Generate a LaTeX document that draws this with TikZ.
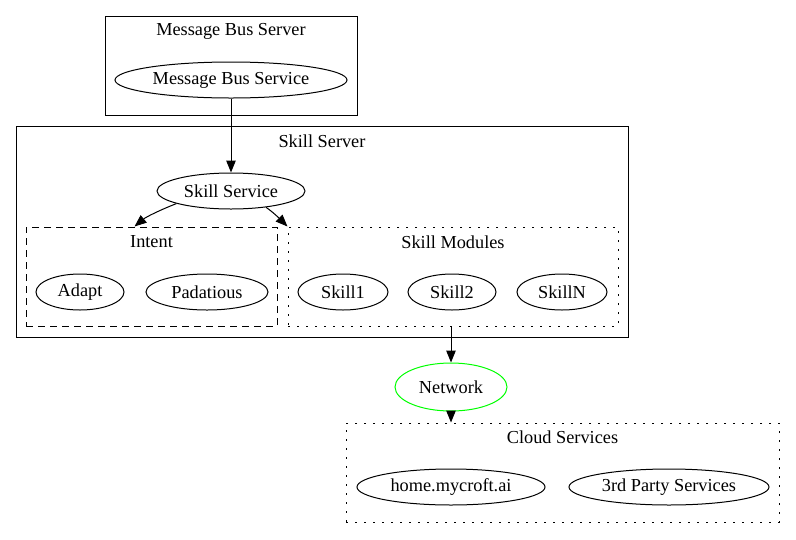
\documentclass[tikz,border=0pt]{standalone}
\usepackage{fontspec}
\setmainfont{Liberation Serif}
\usetikzlibrary{shapes.geometric,arrows.meta}
\begin{document}
\begin{tikzpicture}[x=1pt,y=-1pt,
  every node/.style={font=\fontsize{18.3}{21}\selectfont},
  ell/.style={draw,ellipse,line width=1pt,inner sep=0pt,minimum height=36pt},
  cl/.style={draw,rectangle,line width=1pt,inner sep=0pt},
  cldash/.style={cl,dash pattern=on 7pt off 5pt},
  cldot/.style={cl,dash pattern=on 1.6pt off 7.4pt},
  lbl/.style={inner sep=0pt},
  arr/.style={line width=1pt,-{Triangle[length=12pt,width=9.5pt]}}]
\useasboundingbox (0,0) rectangle (796,539);
% clusters
\node[cl,minimum width=252pt,minimum height=99pt] (mbsrv) at (231,65.5) {};
\node[lbl] (mbsrvl) at (231,31) {Message Bus Server};
\node[cl,minimum width=612pt,minimum height=211pt] (sksrv) at (322,231.5) {};
\node[lbl] (sksrvl) at (322,141) {Skill Server};
\node[cldash,minimum width=251pt,minimum height=99pt] (intent) at (151.5,276.5) {};
\node[lbl] (intentl) at (151.5,242) {Intent};
\node[cldot,minimum width=330pt,minimum height=99pt] (skmod) at (453,276.5) {};
\node[lbl] (skmodl) at (453,242) {Skill Modules};
\node[cldot,minimum width=433pt,minimum height=99pt] (cloud) at (562.5,472.5) {};
\node[lbl] (cloudl) at (562.5,437) {Cloud Services};
% nodes
\node[ell,minimum width=232pt] (mbsvc) at (231,80) {Message Bus Service};
\node[ell,minimum width=148pt] (ss) at (231,191) {Skill Service};
\node[ell,minimum width=88pt] (adapt) at (80,292) {Adapt};
\node[ell,minimum width=122pt] (pad) at (207,292) {Padatious};
\node[ell,minimum width=90pt] (sk1) at (343,292) {Skill1};
\node[ell,minimum width=88pt] (sk2) at (452,292) {Skill2};
\node[ell,minimum width=90pt] (skn) at (562,292) {SkillN};
\node[ell,draw=green,minimum width=112pt,minimum height=48pt] (net) at (451,387) {Network};
\node[ell,minimum width=188pt] (home) at (451,487) {home.mycroft.ai};
\node[ell,minimum width=200pt] (third) at (669,487) {3rd Party Services};
% edges
\draw[arr] (mbsvc.south) -- (ss.north);
\draw[arr] (ss.193) .. controls (160,210) and (146,217) .. ([xshift=109pt]intent.north west);
\draw[arr] (ss.-25) .. controls (273,212) and (281,220) .. (skmod.north west);
\draw[arr] (net.north |- skmod.south) -- (net.north);
\draw[arr] (net.south) -- (net.south |- cloud.north);
\end{tikzpicture}
\end{document}
